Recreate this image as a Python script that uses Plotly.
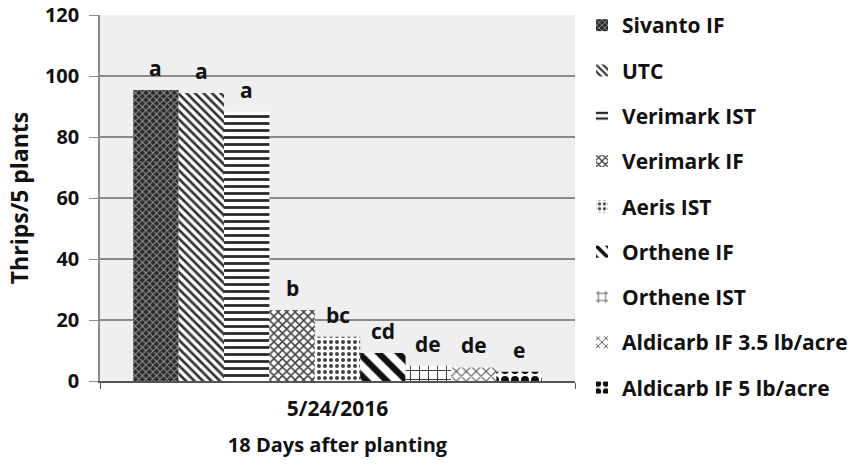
import plotly.graph_objects as go

# ---- data ----
category = ["5/24/2016"]
treatments = ["Sivanto IF", "UTC", "Verimark IST", "Verimark IF", "Aeris IST",
              "Orthene IF", "Orthene IST", "Aldicarb IF 3.5 lb/acre", "Aldicarb IF 5 lb/acre"]
thrips = [95.4, 94.4, 88.3, 23.3, 14.5, 9.2, 5.0, 4.5, 3.0]
letters = ["a", "a", "a", "b", "bc", "cd", "de", "de", "e"]
y_ticks = [0, 20, 40, 60, 80, 100, 120]

# ---- styles ----
patterns = [
    dict(shape="x", fgcolor="#9a9a9a", bgcolor="#2a2a2a", size=5, solidity=0.35),
    dict(shape="\\", fgcolor="#333333", bgcolor="#ffffff", size=6, solidity=0.45),
    dict(shape="-", fgcolor="#2a2a2a", bgcolor="#ffffff", size=7, solidity=0.4),
    dict(shape="x", fgcolor="#404040", bgcolor="#ffffff", size=6, solidity=0.45),
    dict(shape=".", fgcolor="#444444", bgcolor="#ffffff", size=6, solidity=0.35),
    dict(shape="\\", fgcolor="#111111", bgcolor="#ffffff", size=14, solidity=0.45),
    dict(shape="+", fgcolor="#333333", bgcolor="#ffffff", size=9, solidity=0.2),
    dict(shape="x", fgcolor="#555555", bgcolor="#ffffff", size=7, solidity=0.3),
    dict(shape=".", fgcolor="#111111", bgcolor="#ffffff", size=10, solidity=0.5),
]
letter_shift = 22

FONT = "Open Sans"
W, H = 854, 466
margin = dict(l=100, r=279, t=15, b=85, autoexpand=False)
bargap = 0.14

fig = go.Figure()
for i, name in enumerate(treatments):
    fig.add_trace(go.Bar(
        x=category, y=[thrips[i]], name=name,
        marker=dict(color=patterns[i]["bgcolor"], line=dict(width=0),
                    pattern=dict(fillmode="overlay", fgopacity=1, **patterns[i])),
        legendgroup=name,
    ))

plot_w = W - margin["l"] - margin["r"]
plot_h = H - margin["t"] - margin["b"]
n = len(treatments)
bar_px = plot_w * (1 - bargap) / n
for i, (lab, v) in enumerate(zip(letters, thrips)):
    fig.add_annotation(
        x=category[0], y=v, xref="x", yref="y", text=lab, showarrow=False,
        xshift=(i - (n - 1) / 2) * bar_px, yshift=letter_shift, yanchor="middle",
        font=dict(family=FONT, size=21, color="#111111", weight="bold"),
    )

fig.update_layout(
    width=W, height=H, margin=margin,
    paper_bgcolor="white", plot_bgcolor="#efefef",
    barmode="group", bargap=bargap, bargroupgap=0,
    showlegend=True,
    legend=dict(x=1 + 7 / plot_w, xanchor="left", y=1 + 10 / plot_h, yanchor="top",
                font=dict(family=FONT, size=21, color="#111111", weight="bold"),
                tracegroupgap=15, itemwidth=30, bgcolor="rgba(0,0,0,0)",
                maxheight=460),
    xaxis=dict(
        automargin=False,
        title=dict(text="18 Days after planting", standoff=17,
                   font=dict(family=FONT, size=20, color="#111111", weight="bold")),
        tickfont=dict(family=FONT, size=21, color="#111111", weight="bold"),
        ticklabelstandoff=8,
        showline=True, linecolor="#555555", linewidth=1.5,
        ticks="outside", tickson="boundaries", ticklen=6, tickcolor="#555555",
        showgrid=False,
    ),
    yaxis=dict(
        automargin=False,
        title=dict(text="Thrips/5 plants", standoff=10,
                   font=dict(family=FONT, size=23, color="#111111", weight="bold")),
        range=[0, 120], tickvals=y_ticks,
        tickfont=dict(family=FONT, size=20, color="#111111", weight="bold"),
        ticklabeloverflow="allow", ticklabelstandoff=6,
        showline=True, linecolor="#8a8a8a", linewidth=1.5,
        ticks="outside", ticklen=9, tickcolor="#8a8a8a",
        showgrid=True, gridcolor="#8a8a8a", gridwidth=1.5, zeroline=False,
    ),
)

fig.write_html("out.html", config={"displayModeBar": False},
               post_script="document.body.style.margin='0';")
